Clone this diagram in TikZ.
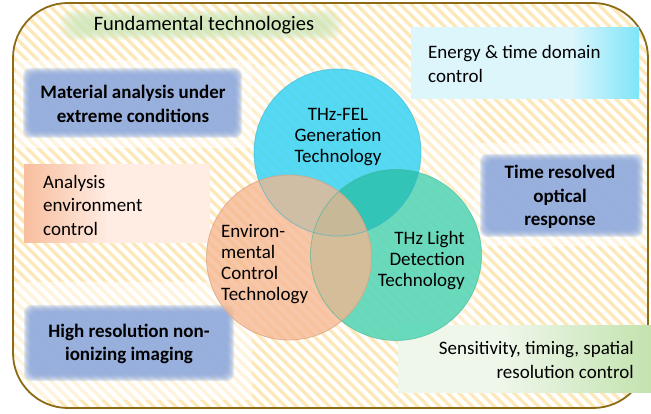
\documentclass[tikz,border=0pt]{standalone}
\usepackage{fontspec}
\setmainfont{Carlito}
\definecolor{bordergold}{HTML}{8C6A16}
\definecolor{stripecol}{HTML}{FDE8BA}
\definecolor{boxblue}{HTML}{8DA8DB}
\definecolor{glowgreen}{HTML}{CDE7B8}
\definecolor{cyanc}{HTML}{3ED4F3}
\definecolor{cyanedge}{HTML}{3FB6CE}
\definecolor{orangec}{HTML}{F6B58E}
\definecolor{orangeedge}{HTML}{D9A07E}
\definecolor{greenc}{HTML}{56D6B6}
\definecolor{greenedge}{HTML}{3DB898}
\definecolor{tealov}{HTML}{2FC3B6}
\definecolor{enA}{HTML}{DDF6FC}
\definecolor{enB}{HTML}{7EE5F8}
\definecolor{anA}{HTML}{F8BE9E}
\definecolor{anB}{HTML}{FFEDE4}
\definecolor{seA}{HTML}{EFF7EB}
\definecolor{seB}{HTML}{C3E3AF}
\pgfdeclarehorizontalshading{energysh}{100bp}{color(0bp)=(enA); color(25bp)=(enA); color(60bp)=(enA); color(75bp)=(enB); color(100bp)=(enB)}
\pgfdeclarehorizontalshading{analysissh}{100bp}{color(0bp)=(anA); color(25bp)=(anA); color(48bp)=(anB); color(75bp)=(anB); color(100bp)=(anB)}
\pgfdeclarehorizontalshading{senssh}{100bp}{color(0bp)=(seA); color(25bp)=(seA); color(45bp)=(seA); color(75bp)=(seB); color(100bp)=(seB)}
\newcommand{\myblurbox}[6]{%
  \foreach \k in {0,...,7}{%
    \fill[#5, fill opacity=#6, rounded corners=7] ({#1-4+\k},{#2-4+\k}) rectangle ({#3+4-\k},{#4+4-\k});
  }}
\tikzset{
  boxtext/.style={inner sep=0pt, font=\fontsize{19}{23.5}\selectfont},
  boldtext/.style={inner sep=0pt, font=\fontsize{19}{23.5}\selectfont\bfseries, align=center},
  circtext/.style={inner sep=0pt, font=\fontsize{19}{21}\selectfont},
  circ/.style={fill opacity=0.88}
}
\begin{document}
\begin{tikzpicture}[x=1pt,y=-1pt]
\useasboundingbox (0,0) rectangle (651,414);
% background stripes
\begin{scope}
  \clip[rounded corners=55] (13,3) rectangle (648,408);
  \fill[white] (0,0) rectangle (651,414);
  \foreach \x in {-440,-429,...,660}
    \draw[stripecol, line width=3.4] (\x,0) -- ++(440,440);
  % soft white halos
  \fill[white, opacity=0.5] (16,60) rectangle (252,148);
  \fill[white, opacity=0.5] (15,282) rectangle (252,400);
  \fill[white, opacity=0.5] (474,143) rectangle (651,246);
  \fill[white, opacity=0.3] (250,66) rectangle (475,330);
\end{scope}
\draw[bordergold, line width=1.8, rounded corners=55] (13,3) rectangle (648,408);
% title glow
\foreach \k in {0,...,9}{%
  \fill[glowgreen, fill opacity=0.14, rounded corners=12] ({60+2*\k},{10+\k}) rectangle ({342-2*\k},{40-\k});
}
\node[inner sep=0pt, font=\fontsize{20.5}{24}\selectfont] (title) at (204,25) {Fundamental technologies};
% boxes
\shade[shading=energysh] (411,28) rectangle (639,99);
\node[boxtext, anchor=west, align=left] (energy) at (428,64) {Energy \& time domain\\control};
\myblurbox{27}{72}{238}{134}{boxblue}{0.24}
\node[boldtext] (material) at (133,104) {Material analysis under\\extreme conditions};
\shade[shading=analysissh] (24,165) rectangle (210,243);
\node[boxtext, anchor=west, align=left] (analysis) at (43,205) {Analysis\\environment\\control};
\myblurbox{484}{158}{639}{233}{boxblue}{0.24}
\node[boldtext] (timeres) at (560,197) {Time resolved\\optical\\response};
\myblurbox{28}{309}{230}{377}{boxblue}{0.24}
\node[boldtext] (highres) at (129,344) {High resolution non-\\ionizing imaging};
\shade[shading=senssh] (398,325) rectangle (651,392);
\node[boxtext, anchor=east, align=right] (sens) at (634,360) {Sensitivity, timing, spatial\\resolution control};
% circles
\fill[cyanc, circ] (337.5,152.5) circle[radius=83.5];
\fill[greenc, circ] (396,255) circle[radius=85.5];
\begin{scope}
  \clip (337.5,152.5) circle[radius=83.5];
  \fill[tealov, fill opacity=0.9] (396,255) circle[radius=85.5];
\end{scope}
\fill[orangec, fill opacity=0.76] (289,257.5) circle[radius=82.5];
\draw[cyanedge, line width=0.8, opacity=0.6] (337.5,152.5) circle[radius=83.5];
\draw[greenedge, line width=0.8, opacity=0.6] (396,255) circle[radius=85.5];
\draw[orangeedge, line width=0.8, opacity=0.7] (289,257.5) circle[radius=82.5];
\node[circtext, align=center] (fel) at (338,137) {THz-FEL\\Generation\\Technology};
\node[circtext, anchor=west, align=left] (env) at (221,264) {Environ-\\mental\\Control\\Technology};
\node[circtext, anchor=east, align=right] (det) at (465,261) {THz Light\\Detection\\Technology};
\end{tikzpicture}
\end{document}
